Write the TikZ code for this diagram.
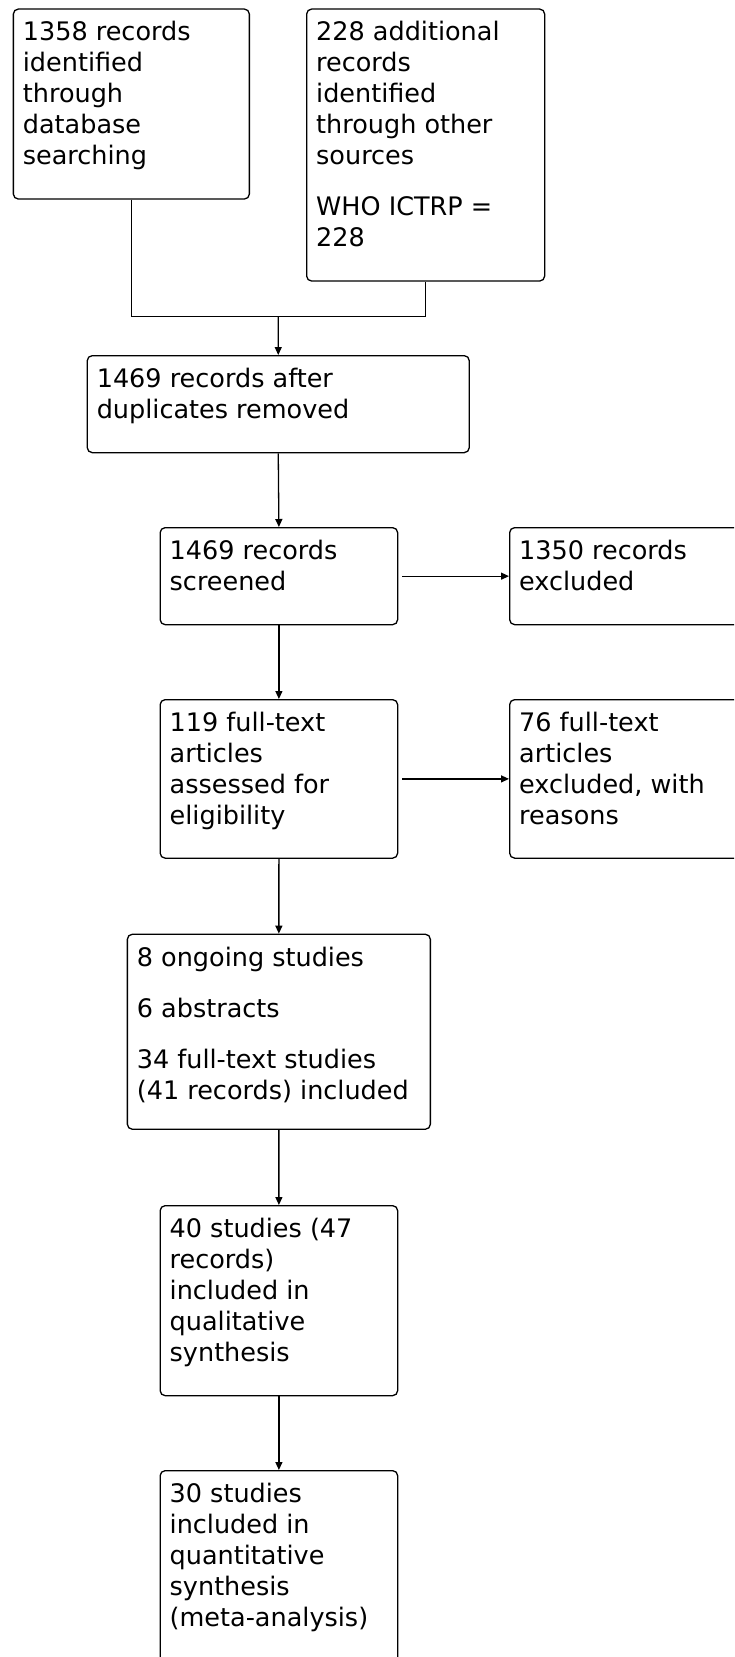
\documentclass[tikz,border=0pt]{standalone}
\usepackage{fontspec}
\setmainfont{DejaVu Sans}
\usetikzlibrary{arrows.meta,calc}
\begin{document}
\begin{tikzpicture}[x=1pt,y=-1pt,
  box/.style={draw=black,line width=1.3pt,rounded corners=5pt,inner sep=0pt,anchor=north west},
  txt/.style={anchor=north west,inner sep=0pt,align=left,font=\fontsize{25.5}{31}\selectfont,
    execute at begin node=\rule{0pt}{22pt}},
  arr/.style={line width=1.3pt,-{Triangle[length=8pt,width=7pt]}},
  ln/.style={line width=1.3pt}]
\useasboundingbox (0,0) rectangle (734,1657);
\clip (0,0) rectangle (734,1657);
% boxes
\node[box,minimum width=236pt,minimum height=190pt] (A) at (12.7,8.4) {};
\node[box,minimum width=238pt,minimum height=272pt] (B) at (306,8.4) {};
\node[box,minimum width=382pt,minimum height=97pt] (C) at (86.6,355) {};
\node[box,minimum width=237.5pt,minimum height=97pt] (D) at (159.5,527) {};
\node[box,minimum width=237.5pt,minimum height=97pt] (E) at (509,527) {};
\node[box,minimum width=237.5pt,minimum height=158.5pt] (F) at (159.5,699) {};
\node[box,minimum width=237.5pt,minimum height=158.5pt] (G) at (509,699) {};
\node[box,minimum width=303pt,minimum height=195pt] (H) at (126.7,933.6) {};
\node[box,minimum width=237.5pt,minimum height=190pt] (I) at (159.5,1205) {};
\node[box,minimum width=237.5pt,minimum height=210pt] (J) at (159.5,1470) {};
% texts
\node[txt] (tA) at ($(A.north west)+(10,13)$) {1358 records\\identified\\through\\database\\searching};
\node[txt] (tB) at ($(B.north west)+(10,13)$) {228 additional\\records\\identified\\through other\\sources\\[20pt]WHO ICTRP =\\228};
\node[txt] (tC) at ($(C.north west)+(10,13)$) {1469 records after\\duplicates removed};
\node[txt] (tD) at ($(D.north west)+(10,13)$) {1469 records\\screened};
\node[txt] (tE) at ($(E.north west)+(10,13)$) {1350 records\\excluded};
\node[txt] (tF) at ($(F.north west)+(10,13)$) {119 full-text\\articles\\assessed for\\eligibility};
\node[txt] (tG) at ($(G.north west)+(10,13)$) {76 full-text\\articles\\excluded, with\\reasons};
\node[txt] (tH) at ($(H.north west)+(10,13)$) {8 ongoing studies\\[20pt]6 abstracts\\[20pt]34 full-text studies\\(41 records) included};
\node[txt] (tI) at ($(I.north west)+(10,13)$) {40 studies (47\\records)\\included in\\qualitative\\synthesis};
\node[txt] (tJ) at ($(J.north west)+(10,13)$) {30 studies\\included in\\quantitative\\synthesis\\(meta-analysis)};
% connectors
\coordinate (j) at (278.3,316.8);
\draw[ln] (A.south) |- (j) -| (B.south);
\draw[arr] (j) -- (C.north);
\draw[arr] (C.south) -- (D.north);
\draw[arr] ($(D.east)+(4,0)$) -- (E.west);
\draw[arr] (D.south) -- (F.north);
\draw[arr] ($(F.east)+(4,0)$) -- (G.west);
\draw[arr] (F.south) -- (H.north);
\draw[arr] (H.south) -- (I.north);
\draw[arr] (I.south) -- (J.north);
\end{tikzpicture}
\end{document}
